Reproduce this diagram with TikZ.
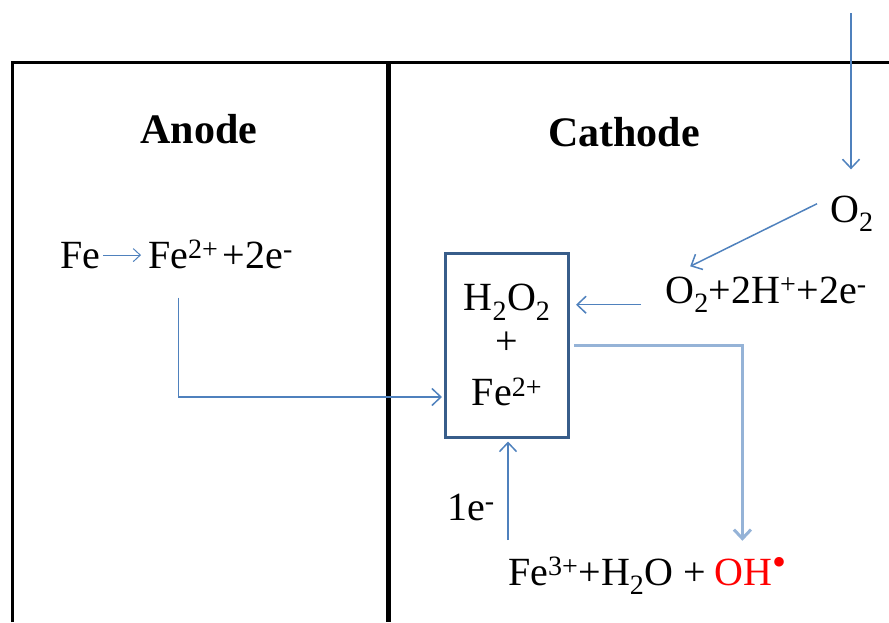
\documentclass[tikz,border=0pt]{standalone}
\usepackage{fontspec}
\setmainfont{Liberation Serif}
\usetikzlibrary{arrows.meta, positioning, calc}
\definecolor{arrowblue}{RGB}{79,129,189}
\definecolor{boxblue}{RGB}{56,93,138}
\definecolor{paleblue}{RGB}{149,179,215}

\begin{document}
\begin{tikzpicture}[
      x=1pt, y=-1pt,
      every node/.style={inner sep=0pt, font=\fontsize{40}{44}\selectfont},
      title/.style={font=\fontsize{42}{48}\selectfont\bfseries},
      flow/.style={draw=arrowblue, line width=1.5pt, -{Straight Barb[length=9pt,width=17pt]}},
      wall/.style={line width=3pt}
    ]
      \useasboundingbox (0,0) rectangle (889,622);
      % cell walls
      \draw[wall] (12,622) -- (12,62) -- (889,62);
      \draw[wall, line width=5pt] (388,62) -- (388,622);
      \node[title, anchor=base] (anode) at (199,143) {Anode};
      \node[title, anchor=base] (cathode) at (624,146) {Cathode};
      % anode side
      \node[anchor=base west] (fe) at (60,268) {Fe};
      \node[anchor=base west] (fetwo) at (148,268) {Fe\textsuperscript{2+}};
      \node[anchor=base west] (etwo) at ($(fetwo.base east)+(4,0)$) {+2e\textsuperscript{-}};
      \draw[flow, line width=1pt, -{Straight Barb[length=7pt,width=13pt]}]
        ($(fe.east)+(3,0)$) -- ($(fe.east -| fetwo.west)+(-7,0)$);
      % cathode side
      \node[draw=boxblue, line width=3pt, minimum width=123pt, minimum height=184pt, align=center]
        (mix) at (507,345) {H\textsubscript{2}O\textsubscript{2}\\+\\[7pt]Fe\textsuperscript{2+}};
      \node[anchor=base west] (otwo) at (830,222) {O\textsubscript{2}};
      \node[anchor=base] (react) at (766,303) {O\textsubscript{2}+2H\textsuperscript{+}+2e\textsuperscript{-}};
      \node[anchor=base west] (eone) at (447,520) {1e\textsuperscript{-}};
      \node[anchor=base west] (fenton) at (508,585) {Fe\textsuperscript{3+}+H\textsubscript{2}O +\kern8pt};
      \node[anchor=base west, text=red] (oh) at (fenton.base east)
        {OH\textsuperscript{\fontsize{40}{40}\selectfont\textbullet}};
      \coordinate (feed) at (851,13);
      \draw[flow, shorten >=26pt] (feed) -- (feed |- otwo.north);
      \draw[flow] ($(otwo.west)+(-13,-10)$) -- ($(react.north west)+(25,-10)$);
      \draw[flow, shorten <=24pt, shorten >=6pt] ($(react.west)+(0,10)$) -- ($(react.west -| mix.east)+(0,10)$);
      \draw[flow, shorten <=29pt, shorten >=2pt] ($(fetwo.south)+(-5,0)$) |- ($(mix.west)+(0,52)$);
      \draw[flow, draw=paleblue, line width=3pt, shorten <=4pt, shorten >=17pt] (mix.east) -| ($(oh.north)+(-8,0)$);
      \draw[flow, shorten <=17pt, shorten >=3pt] (fenton.north west) -- (fenton.north west |- mix.south);
    \end{tikzpicture}
\end{document}
